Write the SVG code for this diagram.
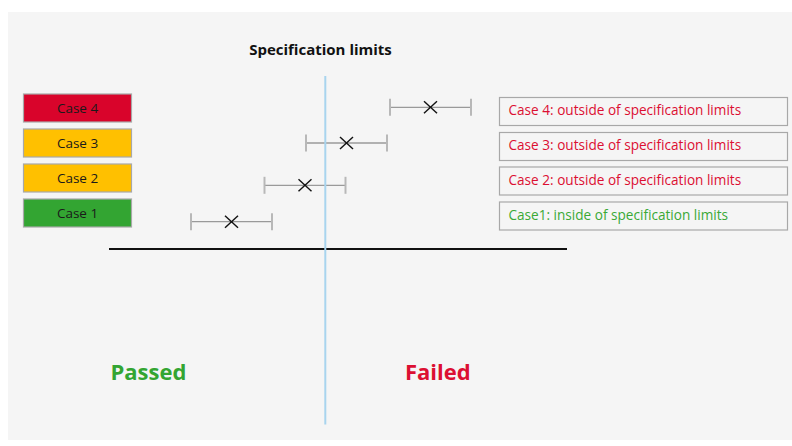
<svg xmlns="http://www.w3.org/2000/svg" width="792" height="446" viewBox="0 0 792 446">
  <style>
    .case { stroke: #a8a8a8; stroke-width: 1.2; }
    .caseText { font-family: "Open Sans", "Liberation Sans", sans-serif; font-size: 13.5px; fill: #1a1a1a; text-anchor: middle; }
    .result { fill: #f5f5f5; stroke: #a8a8a8; stroke-width: 1.2; }
    .resText { font-family: "Open Sans", "Liberation Sans", sans-serif; font-size: 13.6px; }
    .red { fill: #dc0f32; }
    .green { fill: #3aa935; }
    .bar { stroke: #9a9a9a; stroke-width: 1.3; fill: none; }
    .tick { stroke: #b8b8b8; stroke-width: 2; }
    .mark { stroke: #111; stroke-width: 1.4; }
  </style>
  <defs>
    <!-- measurement with tolerance: horizontal bar, end ticks, cross at the value -->
    <g id="errbar">
      <line class="bar" x1="-40.5" y1="0" x2="40.5" y2="0"/>
      <line class="tick" x1="-40.5" y1="-8.5" x2="-40.5" y2="8.5"/>
      <line class="tick" x1="40.5" y1="-8.5" x2="40.5" y2="8.5"/>
      <line class="mark" x1="-6.5" y1="-6" x2="6.5" y2="6"/>
      <line class="mark" x1="-6.5" y1="6" x2="6.5" y2="-6"/>
    </g>
  </defs>

  <rect x="0" y="0" width="792" height="446" fill="#ffffff"/>
  <rect x="8" y="12" width="784" height="428" fill="#f5f5f5"/>

  <text x="320.5" y="55" text-anchor="middle" font-family="Open Sans, Liberation Sans, sans-serif" font-size="15" font-weight="bold" fill="#111">Specification limits</text>

  <!-- case legend -->
  <g id="case4"><rect class="case" x="23.5" y="94" width="108" height="28" fill="#d9042b"/><text class="caseText" x="77.5" y="112.5">Case 4</text></g>
  <g id="case3"><rect class="case" x="23.5" y="129" width="108" height="28" fill="#ffc000"/><text class="caseText" x="77.5" y="147.5">Case 3</text></g>
  <g id="case2"><rect class="case" x="23.5" y="164" width="108" height="28" fill="#ffc000"/><text class="caseText" x="77.5" y="182.5">Case 2</text></g>
  <g id="case1"><rect class="case" x="23.5" y="199" width="108" height="28" fill="#33a532"/><text class="caseText" x="77.5" y="217.5">Case 1</text></g>

  <!-- measurements -->
  <g id="measurements">
    <use href="#errbar" x="430.5" y="107.3"/>
    <use href="#errbar" x="346.5" y="143"/>
    <use href="#errbar" x="305" y="185.3"/>
    <use href="#errbar" x="231.5" y="221.7"/>
  </g>

  <!-- axes -->
  <g id="connectors">
    <line x1="109" y1="249" x2="567" y2="249" stroke="#111" stroke-width="2"/>
    <line x1="325.3" y1="76" x2="325.3" y2="424.5" stroke="#a8d4ee" stroke-width="2"/>
  </g>

  <!-- result boxes -->
  <g id="result4"><rect class="result" x="499.5" y="97.5" width="288" height="28"/><text class="resText red" x="508.5" y="114.5">Case 4: outside of specification limits</text></g>
  <g id="result3"><rect class="result" x="499.5" y="132.5" width="288" height="28"/><text class="resText red" x="508.5" y="149.5">Case 3: outside of specification limits</text></g>
  <g id="result2"><rect class="result" x="499.5" y="167" width="288" height="28"/><text class="resText red" x="508.5" y="184.5">Case 2: outside of specification limits</text></g>
  <g id="result1"><rect class="result" x="499.5" y="202" width="288" height="28"/><text class="resText green" x="508.5" y="219.5">Case1: inside of specification limits</text></g>

  <text x="110.5" y="380" font-family="Open Sans, Liberation Sans, sans-serif" font-size="22" font-weight="bold" fill="#33a532">Passed</text>
  <text x="405" y="380" font-family="Open Sans, Liberation Sans, sans-serif" font-size="22" font-weight="bold" fill="#dc0f32">Failed</text>
</svg>
